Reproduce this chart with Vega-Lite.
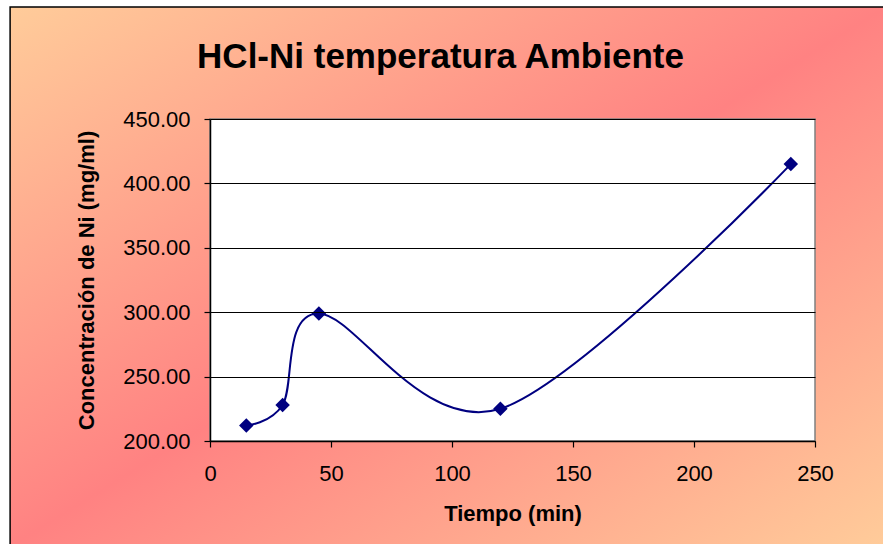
{
  "$schema": "https://vega.github.io/schema/vega-lite/v6.json",
  "width": 605,
  "height": 322,
  "autosize": {"type": "none"},
  "padding": {"left": 210, "top": 119, "right": 68, "bottom": 103},
  "background": "white",
  "config": {
    "font": "Liberation Sans",
    "view": {"stroke": null},
    "axis": {
      "domainColor": "black",
      "domainWidth": 1.5,
      "tickColor": "black",
      "tickWidth": 1.2,
      "tickSize": 6,
      "labelColor": "black",
      "labelFontSize": 22,
      "labelFont": "Liberation Sans",
      "titleColor": "black",
      "titleFontSize": 22,
      "titleFontWeight": "bold",
      "titleFont": "Liberation Sans",
      "gridColor": "black",
      "gridWidth": 1,
      "gridOpacity": 1
    }
  },
  "title": {
    "text": "HCl-Ni temperatura Ambiente",
    "font": "Liberation Sans",
    "fontSize": 35,
    "fontWeight": "bold",
    "color": "black",
    "anchor": "middle",
    "frame": "group",
    "dx": -72,
    "offset": -69,
    "zindex": 2
  },
  "data": {
    "values": [
      {"tiempo": 15, "ni": 212},
      {"tiempo": 30, "ni": 228},
      {"tiempo": 45, "ni": 299},
      {"tiempo": 120, "ni": 225},
      {"tiempo": 240, "ni": 415}
    ]
  },
  "layer": [
    {
      "data": {"values": [{}]},
      "mark": {
        "type": "rect",
        "clip": false,
        "stroke": "black",
        "strokeWidth": 1.5,
        "fill": {
          "gradient": "linear",
          "x1": 0, "y1": 0, "x2": 1, "y2": 1,
          "stops": [
            {"offset": 0, "color": "#ffcc9a"},
            {"offset": 0.5, "color": "#ff8282"},
            {"offset": 1, "color": "#ffcc9a"}
          ]
        }
      },
      "encoding": {
        "x": {"datum": -82.6, "type": "quantitative", "scale": {"domain": [0, 250], "nice": false}},
        "x2": {"datum": 279.5},
        "y": {"datum": 537, "type": "quantitative", "scale": {"domain": [200, 450], "nice": false, "zero": false}},
        "y2": {"datum": 118}
      }
    },
    {
      "data": {"values": [{}]},
      "mark": {"type": "rect", "fill": "white", "stroke": "#808080", "strokeWidth": 1.5},
      "encoding": {
        "x": {"datum": 0, "type": "quantitative", "scale": {"domain": [0, 250], "nice": false}},
        "x2": {"datum": 250},
        "y": {"datum": 450, "type": "quantitative", "scale": {"domain": [200, 450], "nice": false, "zero": false}},
        "y2": {"datum": 200}
      }
    },
    {
      "mark": {"type": "line", "interpolate": "cardinal", "color": "#000080", "strokeWidth": 2},
      "encoding": {
        "x": {
          "field": "tiempo",
          "type": "quantitative",
          "scale": {"domain": [0, 250], "nice": false},
          "axis": {
            "title": "Tiempo (min)",
            "values": [0, 50, 100, 150, 200, 250],
            "grid": false,
            "zindex": 1,
            "labelPadding": 16,
            "titlePadding": 19,
            "labelFlush": false
          }
        },
        "y": {
          "field": "ni",
          "type": "quantitative",
          "scale": {"domain": [200, 450], "nice": false, "zero": false},
          "axis": {
            "title": "Concentración de Ni (mg/ml)",
            "values": [200, 250, 300, 350, 400, 450],
            "format": ".2f",
            "grid": true,
            "zindex": 1,
            "labelPadding": 14,
            "titlePadding": 24
          }
        }
      }
    },
    {
      "mark": {"type": "point", "shape": "diamond", "filled": true, "color": "#000080", "size": 210, "opacity": 1},
      "encoding": {
        "x": {"field": "tiempo", "type": "quantitative", "scale": {"domain": [0, 250], "nice": false}},
        "y": {"field": "ni", "type": "quantitative", "scale": {"domain": [200, 450], "nice": false, "zero": false}}
      }
    }
  ]
}
